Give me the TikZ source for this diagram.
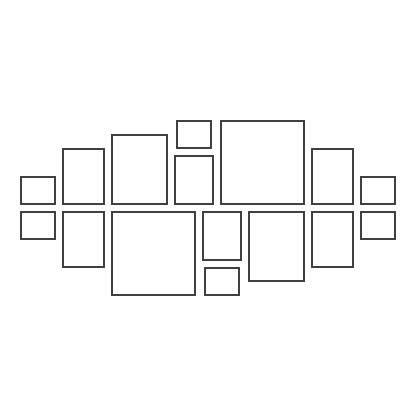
\documentclass[tikz,border=0pt]{standalone}
\usepackage{tikz}

\begin{document}
\begin{tikzpicture}[x=1pt,y=-1pt,frame/.style={draw=black!75,line width=1.3pt}]
	\useasboundingbox (0,0) rectangle (416,416);
	
	% upper row
	\draw[frame] (21,177) rectangle (55,204);
	\draw[frame] (63,149) rectangle (104,204);
	\draw[frame] (112,135) rectangle (167,204);
	\draw[frame] (177,121) rectangle (211,148);
	\draw[frame] (175,156) rectangle (213,204);
	\draw[frame] (221,121) rectangle (304,204);
	\draw[frame] (312,149) rectangle (353,204);
	\draw[frame] (361,177) rectangle (395,204);
	
	% lower row
	\draw[frame] (21,212) rectangle (55,239);
	\draw[frame] (63,212) rectangle (104,267);
	\draw[frame] (112,212) rectangle (195,295);
	\draw[frame] (203,212) rectangle (241,260);
	\draw[frame] (205,268) rectangle (239,295);
	\draw[frame] (249,212) rectangle (304,281);
	\draw[frame] (312,212) rectangle (353,267);
	\draw[frame] (361,212) rectangle (395,239);
\end{tikzpicture}
\end{document}
